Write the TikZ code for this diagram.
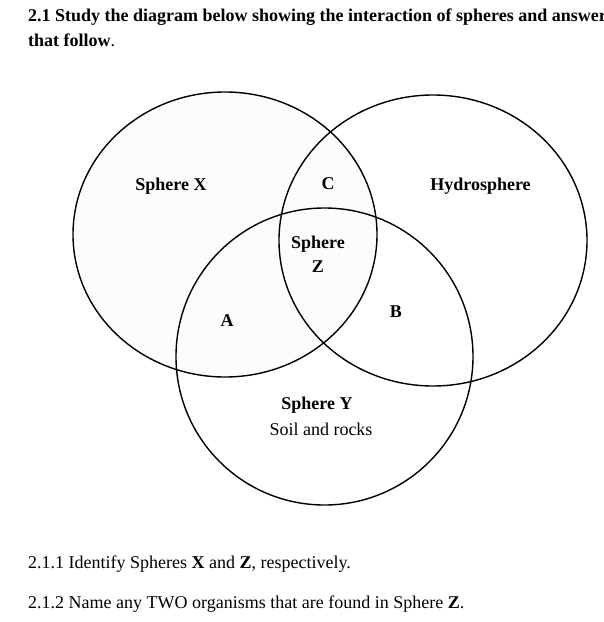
\documentclass[tikz,border=0pt]{standalone}
\usepackage{fontspec}
\setmainfont{Liberation Serif}
\begin{document}
\begin{tikzpicture}[x=1pt,y=-1pt,
  txt/.style={inner sep=0pt,font=\fontsize{18}{20}\selectfont},
  btxt/.style={txt,font=\fontsize{18}{20}\selectfont\bfseries},
  ring/.style={line width=1.4pt,draw=black}]
\clip (0,0) rectangle (604,622);
\fill[white] (0,0) rectangle (604,622);
% spheres
\draw[ring,fill=black!1] (225,234.5) ellipse [x radius=152,y radius=142.5];
\draw[ring] (433,240.5) ellipse [x radius=154,y radius=145.5];
\draw[ring] (324.5,356.5) ellipse [x radius=148.5,y radius=148.5];
% title
\node[btxt,anchor=base west] (t1) at (28,21) {2.1 Study the diagram below showing the interaction of spheres and answer};
\node[btxt,anchor=base west] (t2) at (28,46) {that follow\textmd{.}};
% labels
\node[btxt,anchor=base] (sx) at (171,190) {Sphere X};
\node[btxt,anchor=base] (c) at (328,189) {C};
\node[btxt,anchor=base] (hy) at (480.5,190) {Hydrosphere};
\node[btxt,anchor=base] (sz1) at (318,248) {Sphere};
\node[btxt,anchor=base] (sz2) at (318,272) {Z};
\node[btxt,anchor=base] (a) at (227,326) {A};
\node[btxt,anchor=base] (b) at (396,317) {B};
\node[btxt,anchor=base] (sy) at (317,409) {Sphere Y};
\node[txt,anchor=base] (soil) at (321,435) {Soil and rocks};
% questions
\node[txt,anchor=base west] (q1) at (28,568) {2.1.1 Identify Spheres \textbf{X} and \textbf{Z}, respectively.};
\node[txt,anchor=base west] (q2) at (28,608) {2.1.2 Name any TWO organisms that are found in Sphere \textbf{Z}.};
\end{tikzpicture}
\end{document}
